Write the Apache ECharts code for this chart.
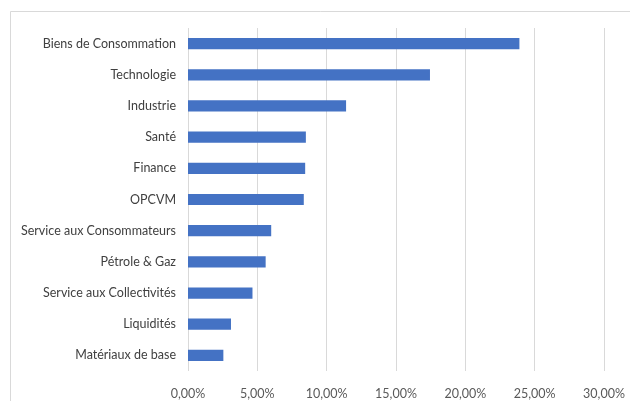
<!DOCTYPE html>
<html><head><meta charset="utf-8">
<script src="https://cdn.jsdelivr.net/npm/echarts@6/dist/echarts.min.js"></script>
<style>html,body{margin:0;padding:0;background:#fff}#c{width:630px;height:401px}</style>
</head><body><div id="c"></div>
<script>
const categories = ["Biens de Consommation","Technologie","Industrie","Santé","Finance","OPCVM","Service aux Consommateurs","Pétrole & Gaz","Service aux Collectivités","Liquidités","Matériaux de base"];
const values = [23.9, 17.45, 11.4, 8.5, 8.45, 8.35, 6.0, 5.6, 4.65, 3.1, 2.55];
const xTicks = {min: 0, max: 30, interval: 5};

const chart = echarts.init(document.getElementById('c'), null, {renderer: 'canvas'});
chart.setOption({
  animation: false,
  backgroundColor: '#fff',
  graphic: [{type: 'rect', shape: {x: 10.5, y: 11.5, width: 700, height: 500}, style: {fill: 'none', stroke: '#d9d9d9', lineWidth: 1}, silent: true}],
  grid: {left: 188, right: 26, top: 28, bottom: 30},
  xAxis: {
    type: 'value', min: xTicks.min, max: xTicks.max, interval: xTicks.interval,
    axisLine: {show: false}, axisTick: {show: false},
    splitLine: {lineStyle: {color: '#d9d9d9', width: 1}},
    axisLabel: {color: '#595959', fontFamily: 'Lato', fontSize: 12.5, margin: 16,
      formatter: v => v.toFixed(2).replace('.', ',') + '%'}
  },
  yAxis: {
    type: 'category', data: categories, inverse: true,
    axisLine: {show: false}, axisTick: {show: false},
    axisLabel: {color: '#404040', fontFamily: 'Lato', fontSize: 12.5, margin: 12}
  },
  series: [{
    type: 'bar', data: values, barCategoryGap: '64%',
    itemStyle: {color: '#4472c4'}
  }]
});
</script></body></html>
